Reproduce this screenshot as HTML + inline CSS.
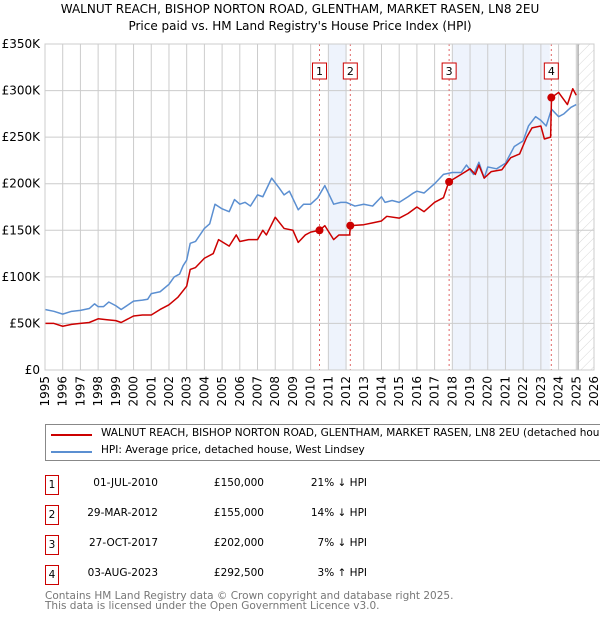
<!DOCTYPE html>
<html><head><meta charset="utf-8"><style>
body{margin:0;width:600px;height:620px;background:#fff;font-family:"DejaVu Sans","Liberation Sans",sans-serif;overflow:hidden;position:relative}
.t{position:absolute;white-space:nowrap}
</style></head><body>
<div class="t" style="left:0;width:600px;text-align:center;top:2px;font-size:12px;color:#000">WALNUT REACH, BISHOP NORTON ROAD, GLENTHAM, MARKET RASEN, LN8 2EU</div>
<div class="t" style="left:0;width:600px;text-align:center;top:19px;font-size:12px;color:#000">Price paid vs. HM Land Registry's House Price Index (HPI)</div>
<svg id="chart" width="600" height="420" style="position:absolute;left:0;top:0" font-family="DejaVu Sans, Liberation Sans, sans-serif"></svg>

<div style="position:absolute;left:45px;top:424px;width:570px;height:37px;border:1px solid #888;box-sizing:border-box">
 <div><div style="position:absolute;left:5px;top:9px;width:41px;height:2px;background:#cc0000"></div><div class="t" style="left:55px;top:2px;font-size:10.5px">WALNUT REACH, BISHOP NORTON ROAD, GLENTHAM, MARKET RASEN, LN8 2EU (detached house)</div></div>
 <div><div style="position:absolute;left:5px;top:26px;width:41px;height:2px;background:#5b8fd1"></div><div class="t" style="left:55px;top:19px;font-size:10.5px">HPI: Average price, detached house, West Lindsey</div></div>
</div>

<div id="tbl"></div>

<div class="t" style="left:45px;top:591px;font-size:10.5px;color:#777;line-height:10px">Contains HM Land Registry data © Crown copyright and database right 2025.<br>This data is licensed under the Open Government Licence v3.0.</div>

<script>
const hpiYears=[1995,1995.5,1996,1996.5,1997,1997.5,1997.8,1998,1998.3,1998.6,1999,1999.3,1999.7,2000,2000.5,2000.8,2001,2001.5,2002,2002.3,2002.6,2002.8,2003,2003.2,2003.5,2004,2004.3,2004.6,2005,2005.4,2005.7,2006,2006.3,2006.6,2007,2007.3,2007.8,2008.2,2008.5,2008.8,2009.3,2009.6,2010,2010.4,2010.8,2011.3,2011.7,2012,2012.5,2013,2013.5,2014,2014.2,2014.6,2015,2015.5,2015.8,2016,2016.4,2017,2017.5,2018,2018.5,2018.8,2019.2,2019.5,2019.8,2020,2020.5,2021,2021.5,2022,2022.3,2022.7,2023,2023.3,2023.6,2024,2024.3,2024.7,2025];
const hpiValues=[65,63,60,63,64,66,71,68,68,73,69,65,70,74,75,76,82,84,92,100,103,112,118,136,138,152,157,178,173,170,183,178,180,176,188,186,206,196,188,192,172,178,178,185,198,178,180,180,176,178,176,186,180,182,180,186,190,192,190,200,210,212,212,220,210,223,206,218,216,222,240,246,262,272,268,262,280,272,275,282,285];
const priceYears=[1995,1995.5,1996,1996.5,1997,1997.5,1998,1998.5,1999,1999.3,2000,2000.5,2001,2001.5,2002,2002.5,2003,2003.2,2003.5,2004,2004.5,2004.8,2005.4,2005.8,2006,2006.5,2007,2007.3,2007.5,2008,2008.5,2009,2009.3,2009.7,2010,2010.5,2010.8,2011.3,2011.6,2012.2,2012.25,2013,2013.5,2014,2014.3,2015,2015.5,2016,2016.4,2017,2017.5,2017.8,2018.5,2019,2019.3,2019.5,2019.8,2020.2,2020.8,2021.3,2021.8,2022.2,2022.5,2023,2023.2,2023.55,2023.6,2024,2024.5,2024.8,2025];
const priceValues=[50,50,47,49,50,51,55,54,53,51,58,59,59,65,70,78,90,108,110,120,125,140,133,145,138,140,140,150,145,164,152,150,137,145,148,150,155,140,145,145,155,156,158,160,165,163,168,175,170,180,185,202,210,216,210,220,206,213,215,228,232,250,260,262,248,250,292.5,298,285,302,295];
const saleLabels=["1","2","3","4"];
const saleYears=[2010.5,2012.24,2017.82,2023.59];
const saleValues=[150,155,202,292.5];
const saleDates=["01-JUL-2010","29-MAR-2012","27-OCT-2017","03-AUG-2023"];
const salePrices=["£150,000","£155,000","£202,000","£292,500"];
const saleHpi=["21% ↓ HPI","14% ↓ HPI","7% ↓ HPI","3% ↑ HPI"];
const yTicks=[0,50,100,150,200,250,300,350];
const yTickLabels=["£0","£50K","£100K","£150K","£200K","£250K","£300K","£350K"];

const X0=45,X1=594,Y0=370,Y1=44,YR0=1995,YR1=2026,VMAX=350;
const xs=y=>X0+(y-YR0)/(YR1-YR0)*(X1-X0);
const ys=v=>Y0-v/VMAX*(Y0-Y1);
const svg=document.getElementById('chart');const NS='http://www.w3.org/2000/svg';
function mk(tag,attrs,parent){const e=document.createElementNS(NS,tag);for(const k in attrs)e.setAttribute(k,attrs[k]);(parent||svg).appendChild(e);return e;}
const defs=mk('defs',{});
const pat=mk('pattern',{id:'hatch',width:7,height:7,patternUnits:'userSpaceOnUse',patternTransform:'rotate(45)'},defs);
mk('line',{x1:0,y1:0,x2:0,y2:7,stroke:'#d8d8d8','stroke-width':1},pat);
[[2011,2012],[2018,2023.5]].forEach(s=>{const r=mk('rect',{x:xs(s[0]),y:Y1,width:xs(s[1])-xs(s[0]),height:Y0-Y1,fill:'#eef3fc'});

});
const hr=mk('rect',{x:xs(2025.1),y:Y1,width:X1-xs(2025.1),height:Y0-Y1,fill:'url(#hatch)'});


for(let yr=YR0;yr<=YR1;yr++){const x=xs(yr);
 const g=mk('line',{x1:x,y1:Y1,x2:x,y2:Y0,stroke:'#ccc','stroke-width':1});
 
 
 const t=mk('text',{x:0,y:0,'font-size':12,'text-anchor':'end',transform:`translate(${x+4},${Y0+6}) rotate(-90)`});
 t.textContent=yr;
 
 }
yTicks.forEach((v,i)=>{const y=ys(v);
 const g=mk('line',{x1:X0,y1:y,x2:X1,y2:y,stroke:'#ccc','stroke-width':1});
 
 
 const t=mk('text',{x:X0-5,y:y+4,'font-size':12,'text-anchor':'end'});
 t.textContent=yTickLabels[i];
 
 });
const vl=mk('line',{x1:xs(2025.1),y1:Y1,x2:xs(2025.1),y2:Y0,stroke:'#999','stroke-width':1.2});


saleYears.forEach((yr,i)=>{const x=xs(yr);
 const l=mk('line',{x1:x,y1:Y1,x2:x,y2:Y0,stroke:'#e06666','stroke-width':1,'stroke-dasharray':'2,3'});
 
 
 const b=mk('rect',{x:x-7,y:63,width:14,height:16,fill:'#fff',stroke:'#cc0000','stroke-width':1});
 
 
 const t=mk('text',{x:x,y:75,'font-size':11,'text-anchor':'middle'});
 t.textContent=saleLabels[i];
 
 });
function line(xa,va,color,name){const p=mk('polyline',{points:xa.map((y,i)=>xs(y)+','+ys(va[i])).join(' '),fill:'none',stroke:color,'stroke-width':1.5,'stroke-linejoin':'round'});
 
 }
line(hpiYears,hpiValues,'#5b8fd1','hpi-line');
line(priceYears,priceValues,'#cc0000','price-line');
saleYears.forEach((yr,i)=>{const c=mk('circle',{cx:xs(yr),cy:ys(saleValues[i]),r:4,fill:'#cc0000'});
 
 });
mk('rect',{x:X0,y:Y1,width:X1-X0,height:Y0-Y1,fill:'none',stroke:'#ccc'});
const tbl=document.getElementById('tbl');
saleLabels.forEach((lab,i)=>{const top=475+i*30;
 const row=document.createElement('div');
 
 
 row.innerHTML=`<div style="position:absolute;left:45px;top:${top}px;width:14px;height:20px;border:1px solid #cc0000;box-sizing:border-box;font-size:10.5px;text-align:center;line-height:18px">${lab}</div>`+
 `<div class="t" style="left:58px;width:100px;text-align:right;top:${top+2}px;font-size:10.5px">${saleDates[i]}</div>`+
 `<div class="t" style="left:164px;width:100px;text-align:right;top:${top+2}px;font-size:10.5px">${salePrices[i]}</div>`+
 `<div class="t" style="left:267px;width:100px;text-align:right;top:${top+2}px;font-size:10.5px">${saleHpi[i]}</div>`;
 tbl.appendChild(row);});
</script>
</body></html>
